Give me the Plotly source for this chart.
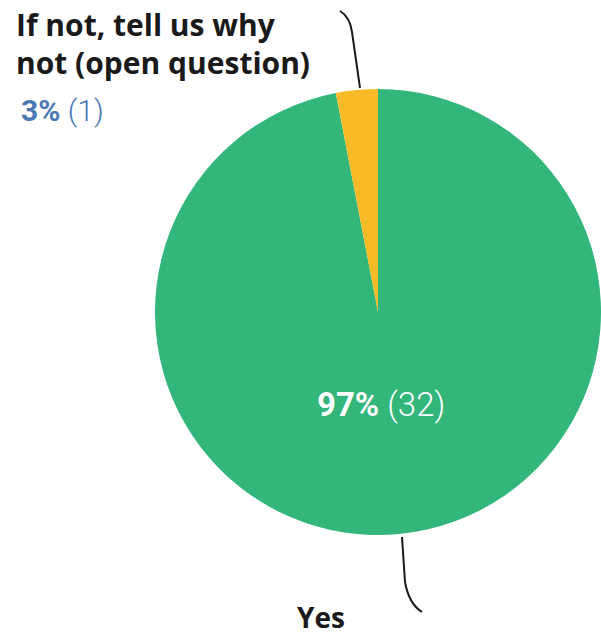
import plotly.graph_objects as go

labels = ["Yes", "If not, tell us why not (open question)"]
label_lines = ["Yes", "If not, tell us why", "not (open question)"]
values = [32, 1]
colors = ["#32b67a", "#f7bb27"]

total = sum(values)
pcts = [round(v / total * 100) for v in values]

W, H = 601, 635

def px(x):
    return x / W

def py(y):
    return 1 - y / H

fig = go.Figure()
fig.add_trace(go.Pie(
    labels=labels,
    values=values,
    sort=False,
    direction="clockwise",
    rotation=0,
    marker=dict(colors=colors, line=dict(width=0)),
    textinfo="none",
    hoverinfo="label+percent",
    showlegend=False,
    domain=dict(x=[px(155), 1.0], y=[py(535), py(89)]),
))

lab_font = dict(family="Open Sans", size=30, color="#1a1a1a")
ann = []
ann.append(dict(text=f"<b>{label_lines[1]}</b>", x=px(14), y=py(24), xref="paper", yref="paper",
                xanchor="left", yanchor="middle", showarrow=False, font=lab_font))
ann.append(dict(text=f"<b>{label_lines[2]}</b>", x=px(14), y=py(63), xref="paper", yref="paper",
                xanchor="left", yanchor="middle", showarrow=False, font=lab_font))
ann.append(dict(text=f"<b>{pcts[1]}%</b> ({values[1]})", x=px(19), y=py(111), xref="paper", yref="paper",
                xanchor="left", yanchor="middle", showarrow=False,
                font=dict(family="Roboto", size=30, color="#4a78b4", weight=300)))
ann.append(dict(text=f"<b>{pcts[0]}%</b> ({values[0]})", x=px(381), y=py(404), xref="paper", yref="paper",
                xanchor="center", yanchor="middle", showarrow=False,
                font=dict(family="Roboto", size=33, color="white", weight=300)))
ann.append(dict(text=f"<b>{label_lines[0]}</b>", x=px(321), y=py(617), xref="paper", yref="paper",
                xanchor="center", yanchor="middle", showarrow=False,
                font=dict(family="Open Sans", size=28, color="#1a1a1a")))

shapes = [
    dict(type="path", xref="paper", yref="paper",
         path=f"M {px(340)} {py(11)} Q {px(350)} {py(17)} {px(352)} {py(32)} L {px(360)} {py(88)}",
         line=dict(color="#1a1a1a", width=2)),
    dict(type="path", xref="paper", yref="paper",
         path=f"M {px(402)} {py(537)} L {px(405)} {py(582)} Q {px(409)} {py(604)} {px(422)} {py(612)}",
         line=dict(color="#1a1a1a", width=2)),
]

fig.update_layout(
    width=W, height=H,
    margin=dict(l=0, r=0, t=0, b=0),
    paper_bgcolor="white", plot_bgcolor="white",
    annotations=ann, shapes=shapes,
)

fig.write_html("out.html", config={"displayModeBar": False},
               post_script="document.body.style.margin='0';document.body.style.overflow='hidden';")
